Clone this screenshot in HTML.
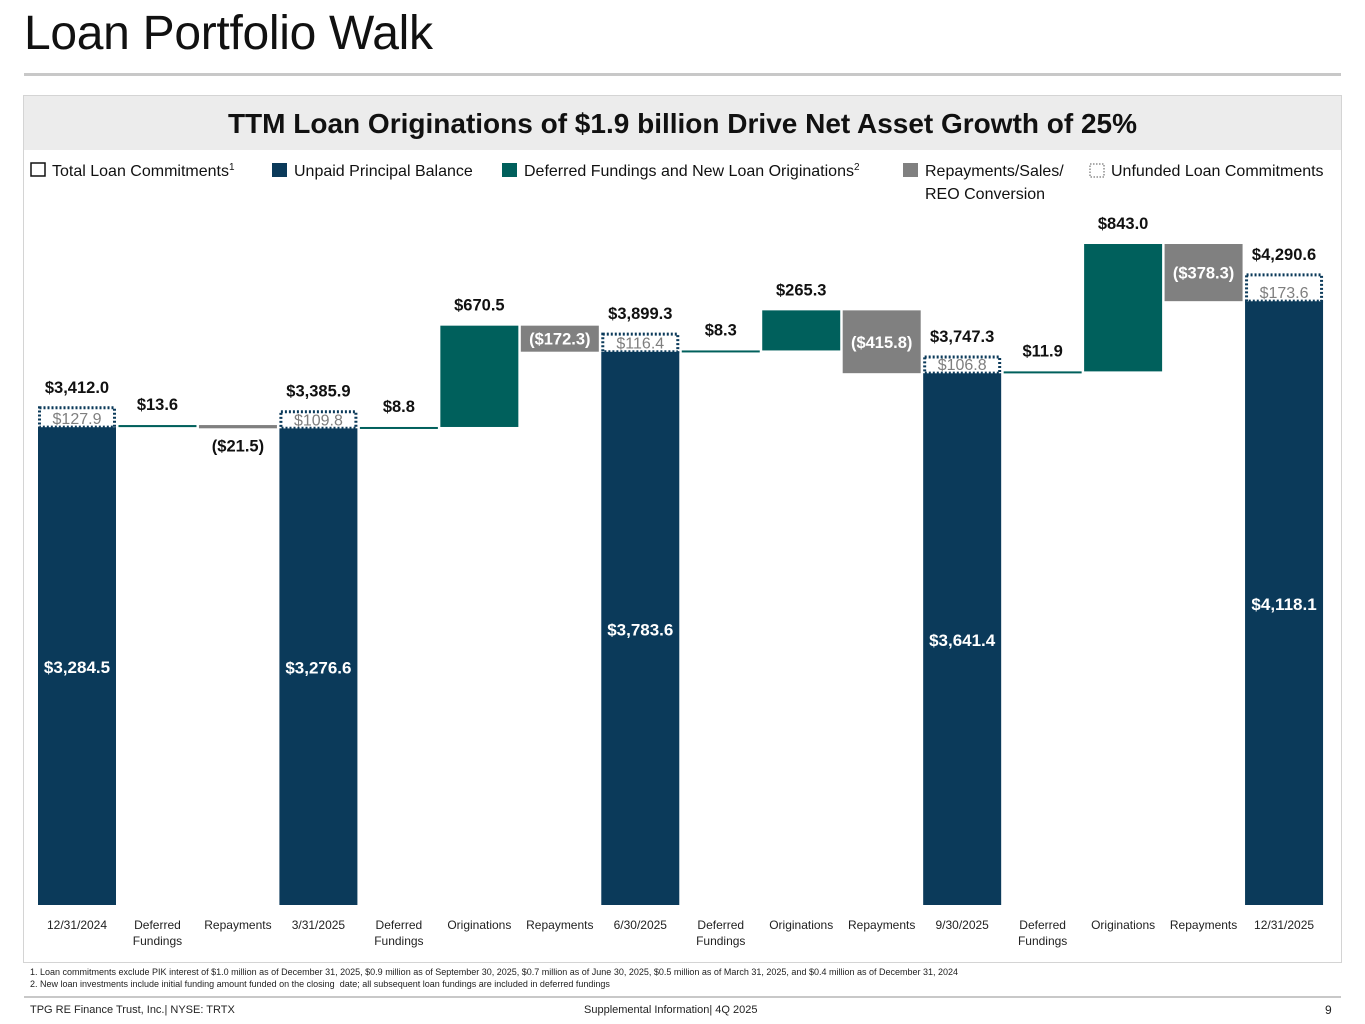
<!DOCTYPE html>
<html><head><meta charset="utf-8"><style>
body{margin:0;width:1365px;height:1024px;background:#fff;font-family:"Liberation Sans",sans-serif;position:relative;overflow:hidden}
.abs{position:absolute}
</style></head><body>
<div class="abs" style="left:24px;top:6px;font-size:48px;color:#111;letter-spacing:-0.3px">Loan Portfolio Walk</div>
<div class="abs" style="left:24px;top:73px;width:1317px;height:3px;background:#c8c8c8"></div>
<div class="abs" style="left:23px;top:95px;width:1317px;height:866px;border:1px solid #d4d4d4"></div>
<div class="abs" style="left:24px;top:96px;width:1317px;height:54px;background:#ececec;text-align:center;line-height:56px;font-size:28px;font-weight:bold;color:#111">TTM Loan Originations of $1.9 billion Drive Net Asset Growth of 25%</div>
<svg class="abs" style="left:0;top:0" width="1365" height="1024" id="chart"></svg>
<div class="abs" style="left:30px;top:966px;font-size:9px;color:#222;line-height:12px">1. Loan commitments exclude PIK interest of $1.0 million as of December 31, 2025, $0.9 million as of September 30, 2025, $0.7 million as of June 30, 2025, $0.5 million as of March 31, 2025, and $0.4 million as of December 31, 2024<br>2. New loan investments include initial funding amount funded on the closing &nbsp;date; all subsequent loan fundings are included in deferred fundings</div>
<div class="abs" style="left:24px;top:996px;width:1317px;height:2px;background:#c8c8c8"></div>
<div class="abs" style="left:30px;top:1004px;font-size:11px;color:#222">TPG RE Finance Trust, Inc.| NYSE: TRTX</div>
<div class="abs" style="left:584px;top:1004px;font-size:11px;color:#222">Supplemental Information| 4Q 2025</div>
<div class="abs" style="left:1325px;top:1003px;font-size:12px;color:#222">9</div>
<script>
const categories=["12/31/2024","Deferred|Fundings","Repayments","3/31/2025","Deferred|Fundings","Originations","Repayments","6/30/2025","Deferred|Fundings","Originations","Repayments","9/30/2025","Deferred|Fundings","Originations","Repayments","12/31/2025"];
const kinds=["total","fund","repay","total","fund","orig","repay","total","fund","orig","repay","total","fund","orig","repay","total"];
const upbValues=[3284.5,13.6,-21.5,3276.6,8.8,670.5,-172.3,3783.6,8.3,265.3,-415.8,3641.4,11.9,843.0,-378.3,4118.1];
const unfundedValues=[127.9,0,0,109.8,0,0,0,116.4,0,0,0,106.8,0,0,0,173.6];
const totalLabels=["$3,412.0","","","$3,385.9","","","","$3,899.3","","","","$3,747.3","","","","$4,290.6"];
const NS="http://www.w3.org/2000/svg";
const svg=document.getElementById('chart');
const base=905, a=923.4, b=0.1511;
function y(v){return Math.min(base,a-b*v);}
function x(i){return 38+i*80.47;}
const bw=78;
function el(t,at,txt){const e=document.createElementNS(NS,t);for(const k in at)e.setAttribute(k,at[k]);if(txt!==undefined)e.textContent=txt;svg.appendChild(e);return e;}
const col={total:"#0b3a5a",fund:"#00605c",orig:"#00605c",repay:"#808080"};
let level=0;
for(let i=0;i<categories.length;i++){
  const v=upbValues[i],k=kinds[i];let top,bot,lo,hi;
  if(k==="total"){level=v;lo=0;hi=v;}else{lo=Math.min(level,level+v);hi=Math.max(level,level+v);level+=v;}
  top=y(hi);bot=y(lo);let h=Math.max(bot-top,2);
  const r=el('rect',{x:x(i),y:top,width:bw,height:h,fill:col[k]});
  
  
  const cx=x(i)+bw/2;
  const fmt=n=>'$'+Math.abs(n).toLocaleString('en-US',{minimumFractionDigits:1,maximumFractionDigits:1});
  if(k==="total"){
    const t=el('text',{x:cx,y:(top+bot)/2+7,'text-anchor':'middle','font-size':17,'font-weight':'bold',fill:'#fff'},fmt(v));
    
    
    const u=unfundedValues[i];const ut=y(v+u);
    const bx=el('rect',{x:x(i)+1.5,y:ut,width:bw-3,height:top-ut,fill:'#fff',stroke:'#0b3a5a','stroke-width':3,'stroke-dasharray':'2 2'});
    
    
    const ul=el('text',{x:cx,y:top-3,'text-anchor':'middle','font-size':16,fill:'#7f7f7f'},fmt(u));
    
    
    const tl=el('text',{x:cx,y:ut-15,'text-anchor':'middle','font-size':16.5,'font-weight':'bold',fill:'#111'},totalLabels[i]);
    
    
  } else if(k==="repay"){
    let t;
    if(h>15) t=el('text',{x:cx,y:(top+bot)/2+6,'text-anchor':'middle','font-size':16.5,'font-weight':'bold',fill:'#fff'},'('+fmt(v)+')');
    else t=el('text',{x:cx,y:bot+23,'text-anchor':'middle','font-size':16.5,'font-weight':'bold',fill:'#111'},'('+fmt(v)+')');
    
    
  } else {
    const t=el('text',{x:cx,y:top-15,'text-anchor':'middle','font-size':16.5,'font-weight':'bold',fill:'#111'},fmt(v));
    
    
  }
  const parts=categories[i].split('|');
  parts.forEach((p,j)=>{const c=el('text',{x:cx,y:929+j*16,'text-anchor':'middle','font-size':12,fill:'#222'},p);
    
    });
}
// legend
const lg=[[30,'hollow','Total Loan Commitments','1'],[272,'#0b3a5a','Unpaid Principal Balance',''],[502,'#00605c','Deferred Fundings and New Loan Originations','2'],[903,'#808080','Repayments/Sales/',''],[1089,'dotted','Unfunded Loan Commitments','']];
lg.forEach((L,i)=>{
  let s;
  if(L[1]==='hollow') s=el('rect',{x:L[0]+1,y:163,width:14,height:13,fill:'#fff',stroke:'#111','stroke-width':1.5});
  else if(L[1]==='dotted') s=el('rect',{x:L[0]+1,y:164,width:14,height:13,fill:'#fff',stroke:'#555','stroke-width':1,'stroke-dasharray':'1.5 1.5'});
  else s=el('rect',{x:L[0],y:163,width:15,height:14,fill:L[1]});
  
  
  const t=el('text',{x:L[0]+22,y:176,'font-size':16,fill:'#111'},L[2]);
  
  
  if(L[3]){const sp=document.createElementNS(NS,'tspan');sp.setAttribute('dy','-6');sp.setAttribute('font-size','10');sp.textContent=L[3];t.appendChild(sp);}
});
const t2=el('text',{x:925,y:199,'font-size':16,fill:'#111'},'REO Conversion');


</script>
</body></html>
